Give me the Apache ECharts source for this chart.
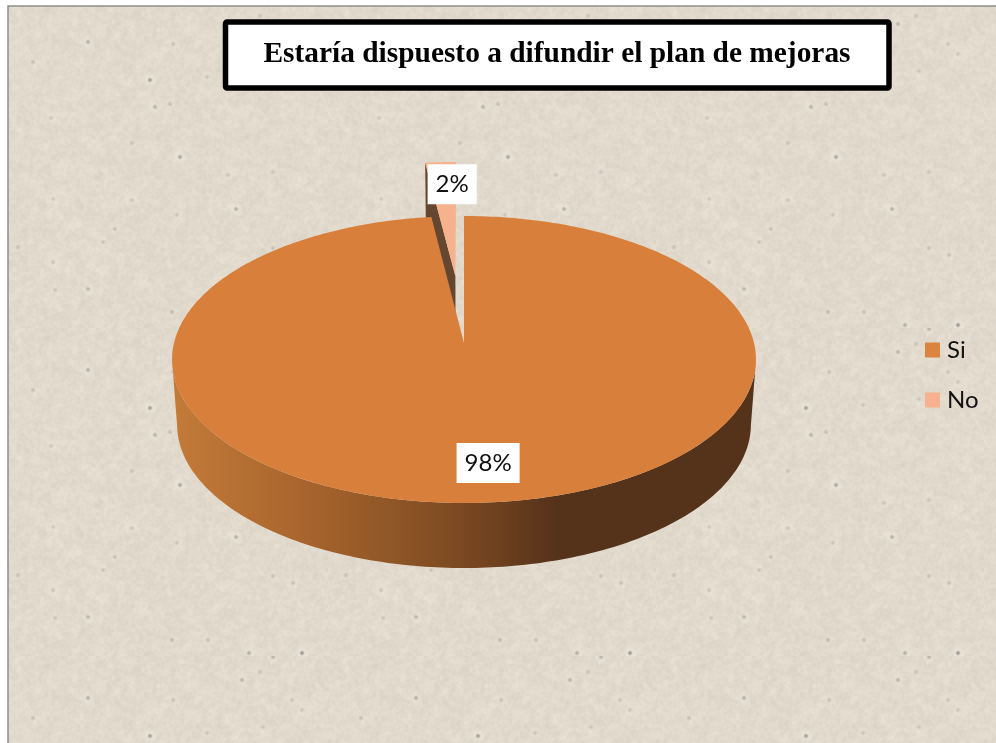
<!DOCTYPE html>
<html>
<head>
<meta charset="utf-8">
<style>html,body{margin:0;padding:0;background:#fff}#chart{width:996px;height:743px}</style>
<script src="https://cdn.jsdelivr.net/npm/echarts@6/dist/echarts.min.js"></script>
</head>
<body>
<div id="chart"></div>
<script>
// Chart content
const chartTitle = 'Estaría dispuesto a difundir el plan de mejoras';
const categories = ['Si', 'No'];
const values = [98, 2];
const topColors = ['#D87F3B', '#F6B18D'];
const legendColors = ['#DB843F', '#F7B18F'];

// Paper grain flecks: [x, y, strength] within one repeating tile
const flecks = [
  [150,80,.55],[155,107,.35],[170,104,.25],[88,42,.4],[51,118,.2],[180,157,.5],[132,143,.22],
  [273,172,.2],[228,175,.2],[33,62,.25],[236,209,.4],[302,325,.6],[249,325,.4],[273,329,.35],
  [242,24,.35],[260,16,.2],[263,71,.2],[53,262,.25],[88,289,.35],[103,242,.25],[18,247,.22],
  [115,229,.22],[172,312,.28],[208,312,.28],[55,290,.22],[273,248,.25],[293,255,.25],
  [132,200,.2],[177,215,.2],[53,199,.2],[207,77,.2],[173,44,.22],[292,44,.2],[302,54,.2]
];

function grain(x, y) {
  const s = Math.sin(x * 12.9898 + y * 78.233) * 43758.5453;
  return s - Math.floor(s);
}

// One layer of soft noise, drawn small and stretched over the tile
function noiseLayer(c, size, cell, amount, alpha) {
  const n = Math.round(size / cell);
  const low = document.createElement('canvas');
  low.width = low.height = n;
  const lc = low.getContext('2d');
  const img = lc.createImageData(n, n);
  for (let y = 0; y < n; y++) {
    for (let x = 0; x < n; x++) {
      const d = (grain(x + cell * 17, y + cell * 5) - 0.5) * amount;
      const i = (y * n + x) * 4;
      img.data[i] = 226 + d;
      img.data[i + 1] = 218 + d;
      img.data[i + 2] = 205 + d;
      img.data[i + 3] = 255;
    }
  }
  lc.putImageData(img, 0, 0);
  c.globalAlpha = alpha;
  c.imageSmoothingEnabled = true;
  c.drawImage(low, 0, 0, size, size);
  c.globalAlpha = 1;
}

// Builds the repeating textured paper tile
function buildPaperTile() {
  const size = 328;
  const tile = document.createElement('canvas');
  tile.width = tile.height = size;
  const c = tile.getContext('2d');
  noiseLayer(c, size, 8, 16, 1);
  noiseLayer(c, size, 4, 22, 0.5);
  noiseLayer(c, size, 2, 24, 0.35);
  flecks.forEach(([x, y, a]) => {
    const fx = x % size, fy = y % size;
    let g = c.createRadialGradient(fx, fy, 1, fx, fy, 8);
    g.addColorStop(0, 'rgba(245,241,232,' + a + ')');
    g.addColorStop(1, 'rgba(245,241,232,0)');
    c.fillStyle = g;
    c.fillRect(fx - 8, fy - 8, 16, 16);
    g = c.createRadialGradient(fx, fy, 0, fx, fy, 3);
    g.addColorStop(0, 'rgba(95,88,78,' + (a * 1.15) + ')');
    g.addColorStop(1, 'rgba(95,88,78,0)');
    c.fillStyle = g;
    c.fillRect(fx - 3, fy - 3, 6, 6);
  });
  return tile;
}

// Perspective projection of the pie's disc; upper and lower faces of the slab
const faces = {
  top: { cx: 464, cy: 343, a: 141.6, b: 290, k: 0.115 },
  bottom: { cx: 464, cy: 408, a: 141.6, b: 285, k: 0.115 }
};
const explodeNo = 0.5;
const labelRadius = 0.78;
const labelShiftX = 9;

function project(face, X, Y) {
  const f = faces[face];
  const w = 1 + f.k * Y;
  return [f.cx + f.b * X / w, f.cy - f.a * Y / w];
}

// Slice angles, clockwise from twelve o'clock with the first slice starting there
const total = values.reduce((s, v) => s + v, 0);
function sliceAngles(index) {
  let start = 0;
  for (let i = 0; i < index; i++) start += values[i] / total * 360;
  return [start, start + values[index] / total * 360];
}
function discPoint(face, deg, r, off) {
  const t = deg * Math.PI / 180;
  return project(face, off[0] + r * Math.sin(t), off[1] + r * Math.cos(t));
}
function arcPoints(face, from, to, off) {
  const n = Math.max(2, Math.ceil(Math.abs(to - from) / 1));
  const out = [];
  for (let i = 0; i <= n; i++) out.push(discPoint(face, from + (to - from) * i / n, 1, off));
  return out;
}

const wallGradient = new echarts.graphic.LinearGradient(172, 0, 756, 0, [
  { offset: 0.01, color: '#C27A39' },
  { offset: 0.22, color: '#A9652D' },
  { offset: 0.39, color: '#8D5526' },
  { offset: 0.53, color: '#744420' },
  { offset: 0.66, color: '#55321A' },
  { offset: 1, color: '#55321A' }
], true);

function renderSlice(index) {
  return function () {
    const [from, to] = sliceAngles(index);
    const mid = (from + to) / 2;
    const t = mid * Math.PI / 180;
    const exploded = index === 1;
    const off = exploded ? [explodeNo * Math.sin(t), explodeNo * Math.cos(t)] : [0, 0];
    const children = [];
    if (exploded) {
      // Inner cut face of the pulled-out slice
      children.push({
        type: 'polygon',
        shape: { points: [project('top', off[0], off[1]), project('bottom', off[0], off[1]),
          discPoint('bottom', from, 1, off), discPoint('top', from, 1, off)] },
        style: { fill: '#65462F' }
      });
    } else {
      // Front rim of the large slice, between the disc's silhouette tangents
      const rimFrom = Math.max(from, 97), rimTo = Math.min(to, 263);
      const upper = arcPoints('top', rimFrom, rimTo, off);
      const lower = arcPoints('bottom', rimFrom, rimTo, off).reverse();
      children.push({
        type: 'polygon',
        shape: { points: upper.concat(lower) },
        style: { fill: wallGradient }
      });
    }
    children.push({
      type: 'polygon',
      shape: { points: [project('top', off[0], off[1])].concat(arcPoints('top', from, to, off)) },
      style: { fill: topColors[index] }
    });
    const lp = discPoint('top', mid, labelRadius, off);
    children.push({
      type: 'text',
      z2: 10,
      style: {
        x: lp[0] + labelShiftX - 0.5, y: lp[1] - 1,
        text: values[index] + '%',
        align: 'center', verticalAlign: 'middle',
        font: '24px Lato',
        fill: '#111',
        backgroundColor: '#fff',
        padding: [8, 8, 8, 8]
      }
    });
    return { type: 'group', children };
  };
}

const chart = echarts.init(document.getElementById('chart'), null, { renderer: 'canvas' });
chart.setOption({
  animation: false,
  backgroundColor: '#fff',
  title: {
    text: chartTitle,
    left: 552, top: 49, textAlign: 'center', textVerticalAlign: 'middle',
    textStyle: { fontFamily: 'Liberation Serif', fontWeight: 'bold', fontSize: 29.4, color: '#000' },
    z: 10
  },
  legend: {
    orient: 'vertical',
    left: 920, top: 333,
    data: categories,
    icon: 'rect',
    itemWidth: 15, itemHeight: 15, itemGap: 26,
    textStyle: { fontFamily: 'Lato', fontSize: 24, color: '#111', padding: [0, 0, 0, 2] }
  },
  graphic: [
    {
      type: 'rect', z: -10, silent: true,
      shape: { x: 8, y: 6, width: 1000, height: 750 },
      style: { fill: { image: buildPaperTile(), repeat: 'repeat' }, stroke: '#8E8E8E', lineWidth: 1.5 }
    },
    {
      type: 'rect', z: 1, silent: true,
      shape: { x: 225.5, y: 22, width: 663.5, height: 66, r: 1.5 },
      style: { fill: '#fff', stroke: '#000', lineWidth: 5.5 }
    }
  ],
  series: categories.map((name, i) => ({
    type: 'custom',
    name,
    coordinateSystem: 'none',
    z: i === 0 ? 4 : 3,
    silent: true,
    itemStyle: { color: legendColors[i] },
    data: [values[i]],
    renderItem: renderSlice(i)
  }))
});
</script>
</body>
</html>
